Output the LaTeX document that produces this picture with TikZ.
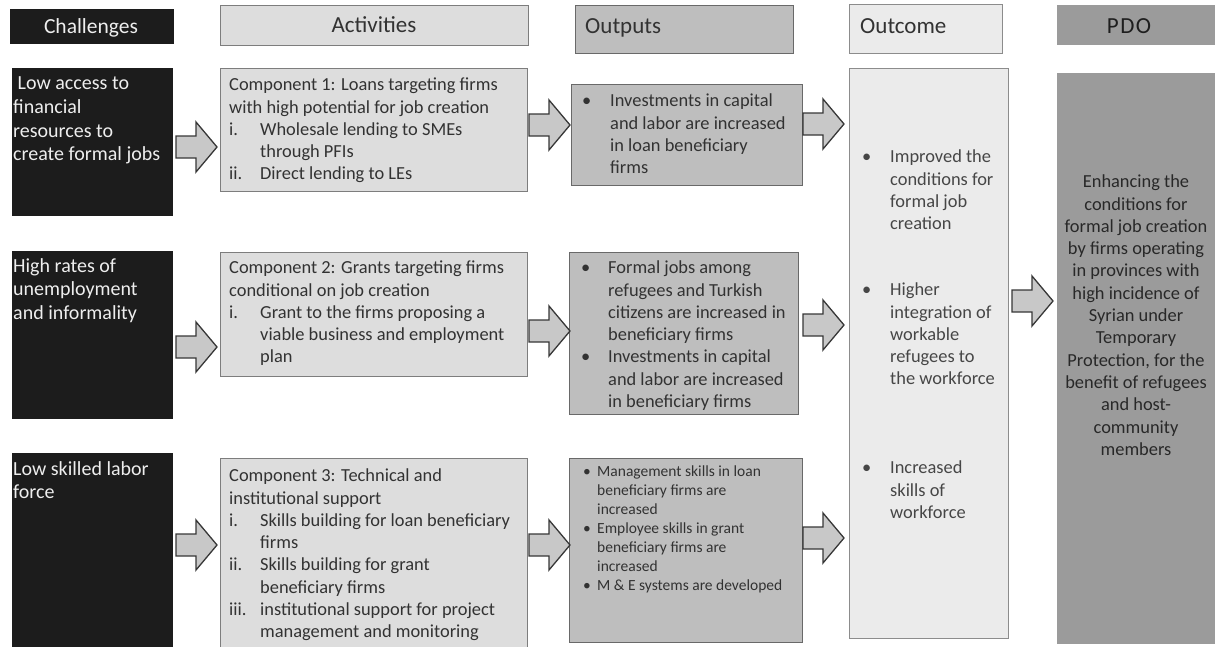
\documentclass[tikz,border=0pt]{standalone}
\usepackage{fontspec}
\setmainfont{Carlito}
\definecolor{chalfill}{RGB}{28,28,28}
\definecolor{actfill}{RGB}{221,221,221}
\definecolor{actline}{RGB}{125,125,125}
\definecolor{outfill}{RGB}{190,190,190}
\definecolor{outline}{RGB}{105,105,105}
\definecolor{ucfill}{RGB}{235,235,235}
\definecolor{ucline}{RGB}{140,140,140}
\definecolor{pdofill}{RGB}{155,155,155}
\definecolor{arrfill}{RGB}{200,200,200}
\definecolor{arrline}{RGB}{55,55,55}
\definecolor{txtdark}{RGB}{50,50,50}
\definecolor{txtlight}{RGB}{238,238,238}
\newcommand\fHead{\fontsize{23}{27}\selectfont}
\newcommand\fChal{\fontsize{20}{23.7}\selectfont}
\newcommand\fBody{\fontsize{18.4}{22.3}\selectfont}
\newcommand\fSmall{\fontsize{15.5}{19}\selectfont}
\newcommand\bx[6]{\node[#2,anchor=north west,inner sep=0pt,minimum width={(#5-#3)*1pt},minimum height={(#6-#4)*1pt}] (#1) at (#3,#4) {};}
\newcommand\itm[2]{\makebox[#1][l]{#2}}
\begin{document}
\begin{tikzpicture}[x=1pt,y=-1pt,
  chalbox/.style={draw=chalfill,fill=chalfill,line width=1pt},
  actbox/.style={draw=actline,fill=actfill,line width=1.3pt},
  outbox/.style={draw=outline,fill=outfill,line width=1.3pt},
  ucbox/.style={draw=ucline,fill=ucfill,line width=1.3pt},
  pdobox/.style={fill=pdofill},
  txt/.style={inner sep=0pt,align=left,anchor=north west,text=txtdark},
  chaltxt/.style={inner sep=0pt,align=left,anchor=north west,text=txtlight,font=\fChal},
  headtxt/.style={inner sep=0pt,anchor=base,font=\fHead,text=txtdark},
  arrowsty/.style={fill=arrfill,draw=arrline,line width=1.3pt,line join=miter},
  barrow/.pic={\draw[arrowsty] (0,-11) -- (20,-11) -- (20,-25) -- (41,0) -- (20,25) -- (20,11) -- (0,11) -- cycle;}
]
\useasboundingbox (0,0) rectangle (1215,646);
% header row
\bx{hC}{chalbox}{10}{9}{173}{43}
\bx{hA}{actbox}{220}{5}{528}{45}
\bx{hO}{outbox}{575}{5}{793}{53}
\bx{hU}{ucbox}{849}{4}{1002}{53}
\bx{hP}{pdobox}{1057}{5}{1218}{45}
\node[headtxt,text=txtlight,font=\fontsize{21.5}{25}\selectfont] (thC) at (91,33) {Challenges};
\node[headtxt] (thA) at (374,32) {Activities};
\node[headtxt,anchor=base west] (thO) at (585,33) {Outputs};
\node[headtxt,anchor=base west] (thU) at (860,33) {Outcome};
\node[headtxt,text={rgb,255:red,30;green,30;blue,30}] (thP) at (1129,33) {P\kern1.5pt D\kern1.5pt O};
% main boxes
\bx{c1}{chalbox}{12}{68}{172}{215}
\bx{c2}{chalbox}{12}{251}{172}{418}
\bx{c3}{chalbox}{12}{453}{172}{652}
\bx{a1}{actbox}{220}{68}{527}{191}
\bx{a2}{actbox}{220}{252}{527}{376}
\bx{a3}{actbox}{220}{458}{527}{652}
\bx{o1}{outbox}{571}{84}{802}{185}
\bx{o2}{outbox}{569}{252}{798}{414}
\bx{o3}{outbox}{569}{458}{802}{642}
\bx{uc}{ucbox}{849}{68}{1008}{638}
\bx{pdo}{pdobox}{1057}{73}{1218}{644}
% challenge texts
\node[chaltxt] (tc1) at (13,72.9) {\strut\hspace*{4.5pt}Low access to\\financial\\resources to\\create formal jobs};
\node[chaltxt] (tc2) at (13,255.4) {\strut High rates of\\unemployment\\and informality};
\node[chaltxt] (tc3) at (13,458.4) {\strut Low skilled labor\\force};
% activity texts
\node[txt,font=\fBody] (ta1) at (229,74.9) {\strut Component 1: Loans targeting firms\\with high potential for job creation\\\itm{31pt}{i.}Wholesale lending to SMEs\\\hspace*{31pt}through PFIs\\\itm{31pt}{ii.}Direct lending to LEs};
\node[txt,font=\fBody] (ta2) at (229,257.9) {\strut Component 2: Grants targeting firms\\conditional on job creation\\\itm{31pt}{i.}Grant to the firms proposing a\\\hspace*{31pt}viable business and employment\\\hspace*{31pt}plan};
\node[txt,font=\fBody] (ta3) at (229,465.9) {\strut Component 3: Technical and\\institutional support\\\itm{31pt}{i.}Skills building for loan beneficiary\\\hspace*{31pt}firms\\\itm{31pt}{ii.}Skills building for grant\\\hspace*{31pt}beneficiary firms\\\itm{31pt}{iii.}institutional support for project\\\hspace*{31pt}management and monitoring};
% output texts
\node[txt,font=\fBody] (to1) at (582,90.9) {\strut\itm{28pt}{•}Investments in capital\\\hspace*{28pt}and labor are increased\\\hspace*{28pt}in loan beneficiary\\\hspace*{28pt}firms};
\node[txt,font=\fBody] (to2) at (581,257.9) {\strut\itm{27pt}{•}Formal jobs among\\\hspace*{27pt}refugees and Turkish\\\hspace*{27pt}citizens are increased in\\\hspace*{27pt}beneficiary firms\\\itm{27pt}{•}Investments in capital\\\hspace*{27pt}and labor are increased\\\hspace*{27pt}in beneficiary firms};
\node[txt,font=\fSmall] (to3) at (583,463.2) {\strut\itm{14pt}{•}Management skills in loan\\\hspace*{14pt}beneficiary firms are\\\hspace*{14pt}increased\\\itm{14pt}{•}Employee skills in grant\\\hspace*{14pt}beneficiary firms are\\\hspace*{14pt}increased\\\itm{14pt}{•}M \& E systems are developed};
% outcome texts
\node[txt,font=\fBody,text={rgb,255:red,70;green,70;blue,70}] (tu1) at (862,146.9) {\strut\itm{28pt}{•}Improved the\\\hspace*{28pt}conditions for\\\hspace*{28pt}formal job\\\hspace*{28pt}creation};
\node[txt,font=\fBody,text={rgb,255:red,70;green,70;blue,70}] (tu2) at (862,279.9) {\strut\itm{28pt}{•}Higher\\\hspace*{28pt}integration of\\\hspace*{28pt}workable\\\hspace*{28pt}refugees to\\\hspace*{28pt}the workforce};
\node[txt,font=\fBody,text={rgb,255:red,70;green,70;blue,70}] (tu3) at (862,457.9) {\strut\itm{28pt}{•}Increased\\\hspace*{28pt}skills of\\\hspace*{28pt}workforce};
% PDO text
\node[txt,font=\fBody,align=center,anchor=north,text={rgb,255:red,40;green,40;blue,40}] (tp) at (1136,171.9) {\strut Enhancing the\\conditions for\\formal job creation\\by firms operating\\in provinces with\\high incidence of\\Syrian under\\Temporary\\Protection, for the\\benefit of refugees\\and host-\\community\\members};
% block arrows
\pic at (176,147) {barrow};
\pic at (176,347) {barrow};
\pic at (176,545) {barrow};
\pic at (529,125) {barrow};
\pic at (529,331) {barrow};
\pic at (529,545) {barrow};
\pic at (803,124) {barrow};
\pic at (803,325) {barrow};
\pic at (803,538) {barrow};
\pic at (1012,301) {barrow};
\end{tikzpicture}
\end{document}
